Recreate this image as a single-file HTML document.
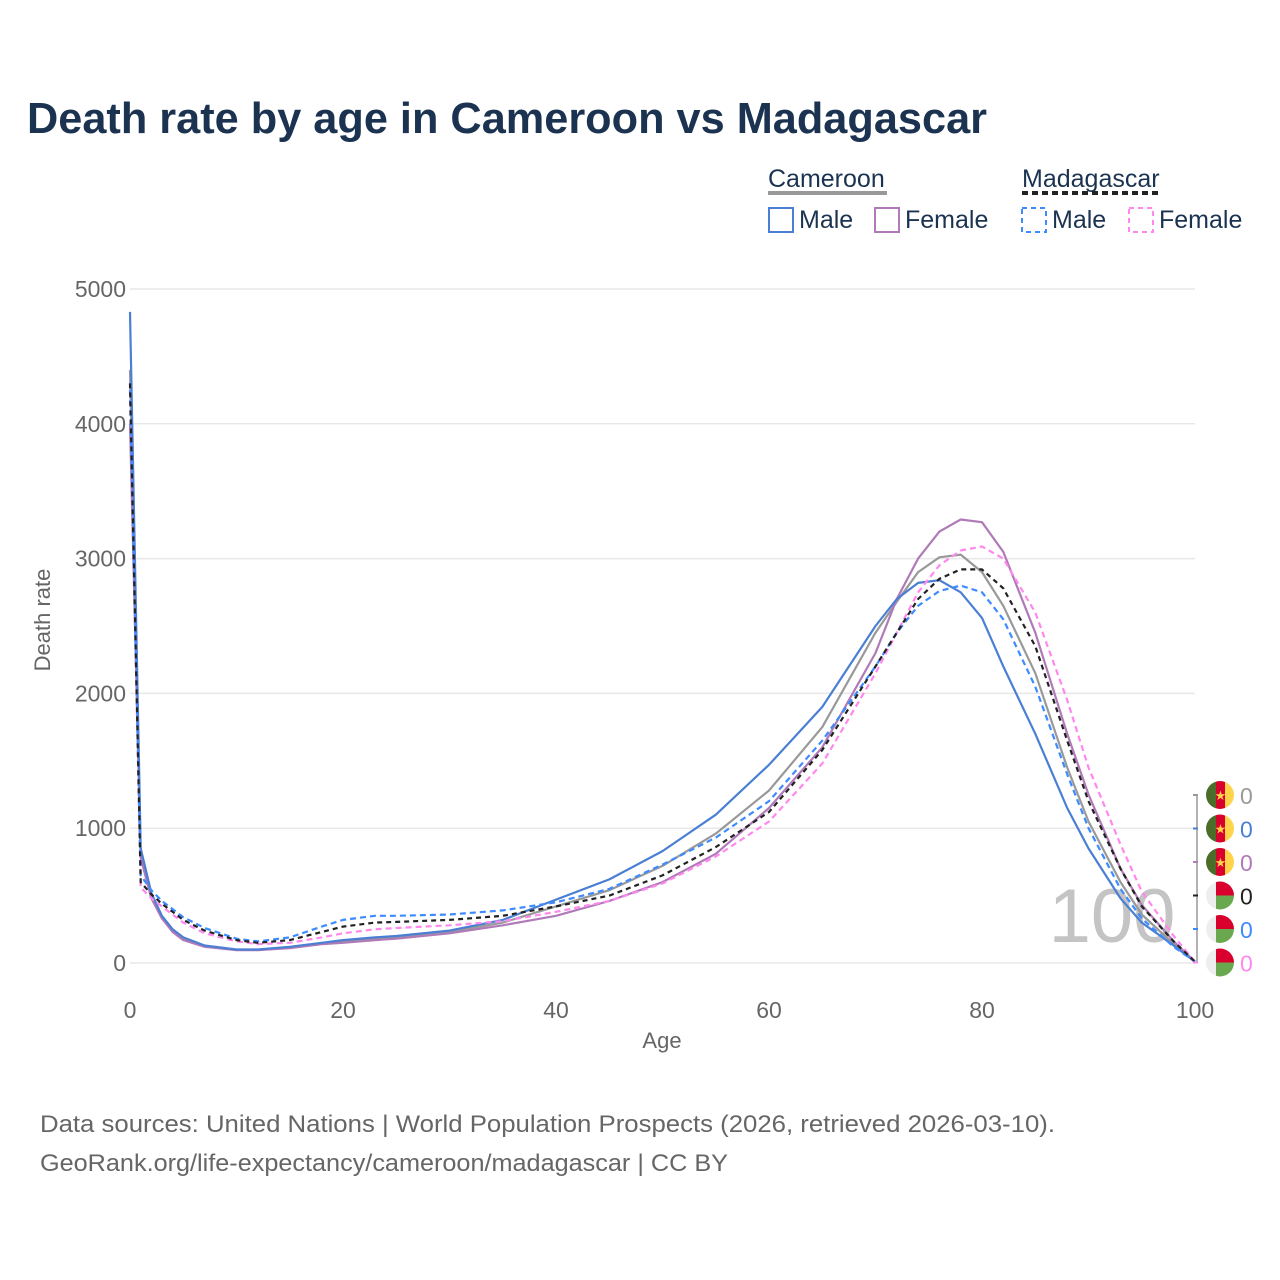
<!DOCTYPE html>
<html><head><meta charset="utf-8">
<style>
body{margin:0;background:#fff;font-family:"Liberation Sans",sans-serif;}
#wrap{position:relative;width:1280px;height:1280px;overflow:hidden;}
</style></head>
<body>
<div id="wrap">
<svg id="chart" width="1280" height="1280">
<text x="27" y="133" font-size="44" font-weight="bold" fill="#1b3350" textLength="960" lengthAdjust="spacingAndGlyphs">Death rate by age in Cameroon vs Madagascar</text>
<g font-size="25" fill="#1b3350">
 <text x="768" y="187">Cameroon</text>
 <line x1="768" y1="193" x2="887" y2="193" stroke="#999" stroke-width="4"/>
 <text x="1022" y="187">Madagascar</text>
 <line x1="1022" y1="193" x2="1159" y2="193" stroke="#222" stroke-width="4" stroke-dasharray="6,4"/>
 <rect x="769" y="208" width="24" height="24" fill="none" stroke="#4a7fd4" stroke-width="2"/>
 <text x="799" y="228">Male</text>
 <rect x="875" y="208" width="24" height="24" fill="none" stroke="#b07ab8" stroke-width="2"/>
 <text x="905" y="228">Female</text>
 <rect x="1022" y="208" width="24" height="24" fill="none" stroke="#3d8bff" stroke-width="2" stroke-dasharray="5,4"/>
 <text x="1052" y="228">Male</text>
 <rect x="1129" y="208" width="24" height="24" fill="none" stroke="#ff88ee" stroke-width="2" stroke-dasharray="5,4"/>
 <text x="1159" y="228">Female</text>
</g>
<g id="grid"></g>
<text x="1112" y="942" font-size="76" fill="#c4c4c4" text-anchor="middle">100</text>
<g id="series"></g>
<g id="endlabels"></g>
<text x="50" y="620" font-size="22" fill="#666" transform="rotate(-90 50 620)" text-anchor="middle">Death rate</text>
<text x="662" y="1048" font-size="22" fill="#666" text-anchor="middle">Age</text>
<text x="40" y="1132" font-size="24" fill="#666" textLength="1015" lengthAdjust="spacingAndGlyphs">Data sources: United Nations | World Population Prospects (2026, retrieved 2026-03-10).</text>
<text x="40" y="1171" font-size="24" fill="#666" textLength="688" lengthAdjust="spacingAndGlyphs">GeoRank.org/life-expectancy/cameroon/madagascar | CC BY</text>
</svg>
</div>
<script>
const ages=[0,1,2,3,4,5,7,10,12,15,18,20,23,25,30,35,40,45,50,55,60,65,70,72,74,76,78,80,82,85,88,90,93,95,98,100];
const camTotal=[4400,820,500,340,240,180,125,98,98,115,145,160,180,190,230,300,420,540,720,960,1280,1750,2450,2680,2900,3010,3030,2900,2650,2150,1450,1050,600,360,140,10];
const camMale=[4830,850,520,350,250,190,130,100,100,120,150,170,190,200,240,320,470,620,830,1100,1470,1900,2500,2700,2820,2840,2750,2560,2200,1700,1150,850,480,300,130,10];
const camFemale=[4000,780,480,330,230,170,120,95,95,110,140,150,170,180,220,280,350,460,600,810,1150,1600,2300,2700,3000,3200,3290,3270,3050,2450,1700,1250,700,430,160,10];
const madTotal=[4300,600,510,440,380,320,240,170,150,170,230,270,300,305,320,350,420,500,650,860,1120,1580,2200,2450,2700,2850,2920,2920,2780,2350,1650,1200,700,420,160,10];
const madMale=[4250,650,540,460,400,340,260,180,160,190,270,320,350,350,360,390,450,550,730,930,1200,1650,2200,2450,2650,2760,2800,2750,2550,2050,1400,1000,550,330,120,10];
const madFemale=[4250,560,480,420,360,300,220,160,140,150,190,220,250,260,280,310,380,460,590,790,1050,1480,2150,2450,2750,2950,3060,3090,3000,2600,1950,1450,880,530,200,10];
const yTicks=[0,1000,2000,3000,4000,5000];
const xTicks=[0,20,40,60,80,100];
const NS='http://www.w3.org/2000/svg';
const X=a=>130+a*10.65, Y=v=>963-v*0.1348;
function mk(t,at,p){const e=document.createElementNS(NS,t);for(const k in at)e.setAttribute(k,at[k]);p.appendChild(e);return e;}
const grid=document.getElementById('grid');
yTicks.forEach(v=>{
 const l=mk('line',{x1:130,x2:1195,y1:Y(v),y2:Y(v),stroke:'#e8e8e8','stroke-width':1.5},grid);
 
 
 const t=mk('text',{x:126,y:Y(v)+8,'text-anchor':'end','font-size':23,fill:'#666'},grid);
 t.textContent=v;
 
 
});
xTicks.forEach(a=>{
 const t=mk('text',{x:X(a),y:1018,'text-anchor':'middle','font-size':23,fill:'#666'},grid);
 t.textContent=a;
 
 
});
const series=[
 ['cameroon-total-line',camTotal,'#999',null],
 ['cameroon-female-line',camFemale,'#b07ab8',null],
 ['cameroon-male-line',camMale,'#4a7fd4',null],
 ['madagascar-female-line',madFemale,'#ff88ee','6,4'],
 ['madagascar-male-line',madMale,'#3d8bff','6,4'],
 ['madagascar-total-line',madTotal,'#222','5,4']];
const sg=document.getElementById('series');
series.forEach(s=>{
 const pts=ages.map((a,i)=>X(a).toFixed(1)+','+Y(s[1][i]).toFixed(1)).join(' ');
 const at={points:pts,fill:'none',stroke:s[2],'stroke-width':2.2,'stroke-linejoin':'round'};
 if(s[3])at['stroke-dasharray']=s[3];
 const p=mk('polyline',at,sg);
 
 
});
const eg=document.getElementById('endlabels');
const endCols=['#999','#4a7fd4','#b07ab8','#222','#3d8bff','#ff88ee'];
mk('line',{x1:1197,x2:1197,y1:795,y2:963,stroke:'#999','stroke-width':1.5},eg);
endCols.forEach((c,i)=>{
 const y=795+i*33.5;
 mk('line',{x1:1193,x2:1198,y1:y,y2:y,stroke:c,'stroke-width':2},eg);
 const g=mk('g',{},eg);
 
 
 const cx=1220,cy=y,r=14;
 const cp='cp'+i;
 const cl=mk('clipPath',{id:cp},g);mk('circle',{cx:cx,cy:cy,r:r},cl);
 const fg=mk('g',{'clip-path':'url(#'+cp+')'},g);
 if(i<3){
  mk('rect',{x:cx-r,y:cy-r,width:10,height:28,fill:'#4a6e2a'},fg);
  mk('rect',{x:cx-4,y:cy-r,width:9,height:28,fill:'#d9002e'},fg);
  mk('rect',{x:cx+5,y:cy-r,width:10,height:28,fill:'#ffd44a'},fg);
  const st=mk('text',{x:cx+0.5,y:cy+5,'text-anchor':'middle','font-size':13,fill:'#ffd44a'},fg);st.textContent='★';
 }else{
  mk('rect',{x:cx-r,y:cy-r,width:10,height:28,fill:'#eee'},fg);
  mk('rect',{x:cx-4,y:cy-r,width:19,height:14,fill:'#d9002e'},fg);
  mk('rect',{x:cx-4,y:cy,width:19,height:14,fill:'#6aa84f'},fg);
 }
 const t=mk('text',{x:1240,y:y+9,'font-size':23,fill:c},eg);
 t.textContent='0';
 
 
});
</script>
</body></html>
